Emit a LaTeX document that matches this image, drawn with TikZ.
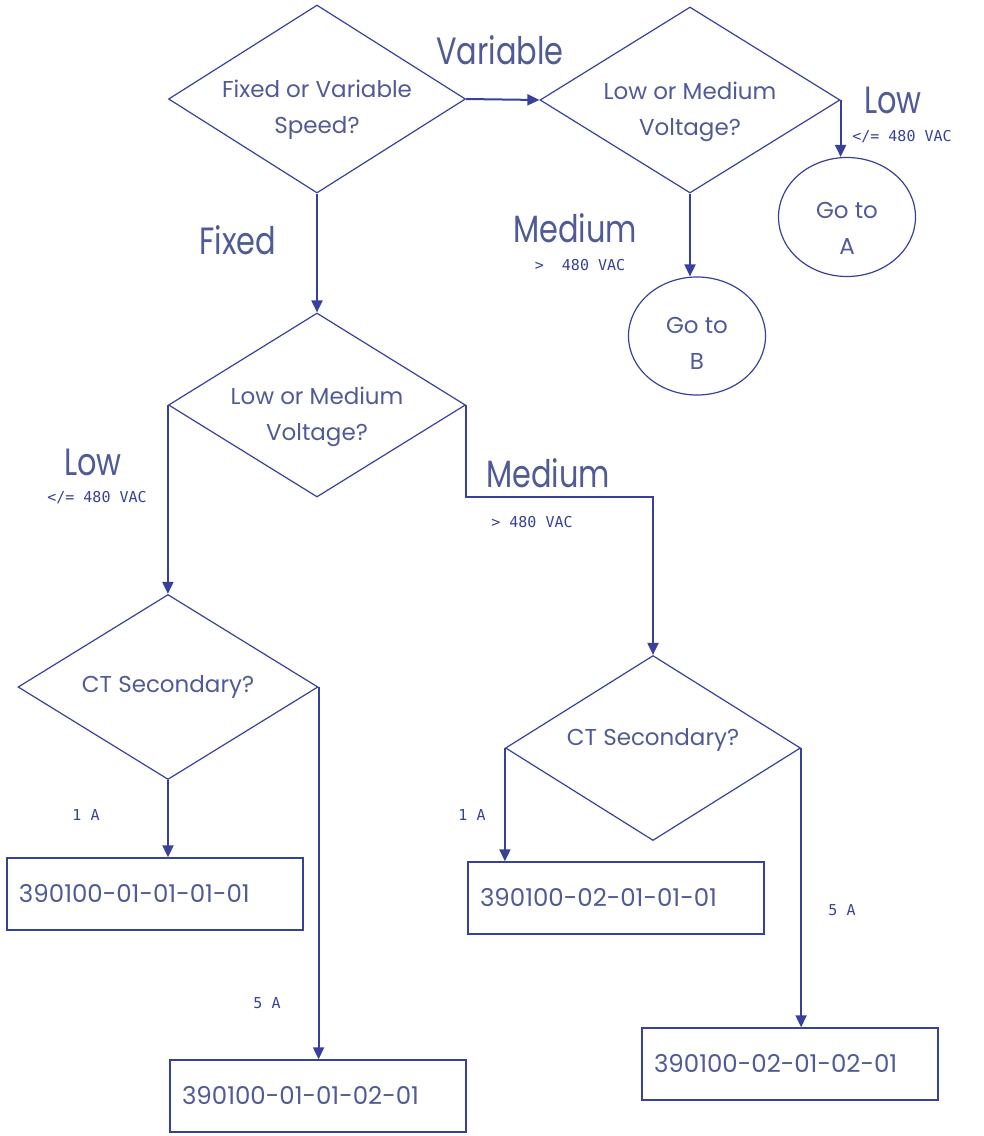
\documentclass[tikz,border=0pt]{standalone}
\usepackage{fontspec}
\setmainfont{Poppins}
\newfontfamily\bigfont[FakeStretch=0.8]{Poppins}
\newfontfamily\smallfont{DejaVu Sans Mono}
\usetikzlibrary{arrows.meta,shapes.geometric}
\definecolor{flowline}{RGB}{55,65,155}
\definecolor{flowtext}{RGB}{80,90,150}
\tikzset{
    question/.style={diamond, draw=flowline, line width=1.2pt, inner sep=0pt},
    goto/.style={ellipse, draw=flowline, line width=1.2pt, inner sep=0pt},
    result/.style={rectangle, draw=flowline, line width=1.4pt, text width=272pt, inner xsep=12pt,
        minimum height=72pt, align=left, text=flowtext, font=\fontsize{24.5}{28}\selectfont},
    qtext/.style={align=center, text=flowtext, font=\fontsize{23}{36}\selectfont},
    bigtext/.style={text=flowtext, font=\bigfont\fontsize{38}{42}\selectfont},
    smalltext/.style={text=flowline, font=\smallfont\fontsize{15}{18}\selectfont},
    flow/.style={->, draw=flowline, line width=2pt}
}

\begin{document}
\begin{tikzpicture}[x=1pt,y=-1pt,>={Triangle[length=12pt,width=11pt]}]
	\useasboundingbox (0,0) rectangle (984,1136);
	% decisions
	\node[question, minimum width=297, minimum height=188,
		label={[qtext, yshift=-11pt]center:{Fixed or Variable\\Speed?}}] (nodeSpeed) at (317,99) {};
	\node[question, minimum width=300, minimum height=186,
		label={[qtext, yshift=-12pt]center:{Low or Medium\\Voltage?}}] (nodeVoltV) at (690,100) {};
	\node[question, minimum width=297, minimum height=184,
		label={[qtext, yshift=-12pt]center:{Low or Medium\\Voltage?}}] (nodeVoltF) at (317,405) {};
	\node[question, minimum width=300, minimum height=185,
		label={[qtext]center:CT Secondary?}] (nodeCTLow) at (168,687) {};
	\node[question, minimum width=295, minimum height=185,
		label={[qtext, yshift=8pt]center:CT Secondary?}] (nodeCTMed) at (653,748) {};
	
	% go to
	\node[goto, minimum width=137, minimum height=119,
		label={[qtext, yshift=-11pt]center:{Go to\\A}}] (nodeA) at (847,217) {};
	\node[goto, minimum width=137, minimum height=118,
		label={[qtext, yshift=-7pt]center:{Go to\\B}}] (nodeB) at (697,336) {};
	
	% part numbers
	\node[result] (node0101) at (155,894) {390100-01-01-01-01};
	\node[result] (node0102) at (318,1096) {390100-01-01-02-01};
	\node[result] (node0201) at (616,898) {390100-02-01-01-01};
	\node[result] (node0202) at (790,1064) {390100-02-01-02-01};
	
	\draw[flow] (nodeSpeed.east) -- (nodeVoltV.west);
	\draw[flow] (nodeVoltV.east) -- (nodeVoltV.east |- nodeA.north);
	\draw[flow] (nodeVoltV.south) -- (nodeVoltV.south |- nodeB.north);
	\draw[flow] (nodeSpeed.south) -- (nodeVoltF.north);
	\draw[flow] (nodeVoltF.west) -- (nodeVoltF.west |- nodeCTLow.north);
	\coordinate (bendMed) at ([yshift=-92pt]nodeVoltF.east);
	\draw[flow] (nodeVoltF.east) -- (bendMed) -| (nodeCTMed.north);
	\draw[flow] (nodeCTLow.south) -- (nodeCTLow.south |- node0101.north);
	\draw[flow] (nodeCTLow.east) -- (nodeCTLow.east |- node0102.north);
	\draw[flow] (nodeCTMed.west) -- (nodeCTMed.west |- node0201.north);
	\draw[flow] (nodeCTMed.east) -- (nodeCTMed.east |- node0202.north);
	
	% branch labels
	\node[bigtext] (lblVariable) at (500,50) {Variable};
	\node[bigtext] (lblLowV) at (893,100) {Low};
	\node[smalltext] (lblLowVAC) at (902,137) {</= 480 VAC};
	\node[bigtext] (lblMedV) at (575,228) {Medium};
	\node[smalltext] (lblMedVAC) at (580,265) {>\ \ 480 VAC};
	\node[bigtext] (lblFixed) at (238,240) {Fixed};
	\node[bigtext] (lblLowF) at (93,462) {Low};
	\node[smalltext] (lblLowFVAC) at (97,498) {</= 480 VAC};
	\node[bigtext] (lblMedF) at (548,473) {Medium};
	\node[smalltext] (lblMedFVAC) at (532,522) {> 480 VAC};
	\node[smalltext] (lbl1ALow) at (86,815) {1 A};
	\node[smalltext] (lbl5ALow) at (267,1003) {5 A};
	\node[smalltext] (lbl1AMed) at (472,815) {1 A};
	\node[smalltext] (lbl5AMed) at (842,910) {5 A};
\end{tikzpicture}
\end{document}
